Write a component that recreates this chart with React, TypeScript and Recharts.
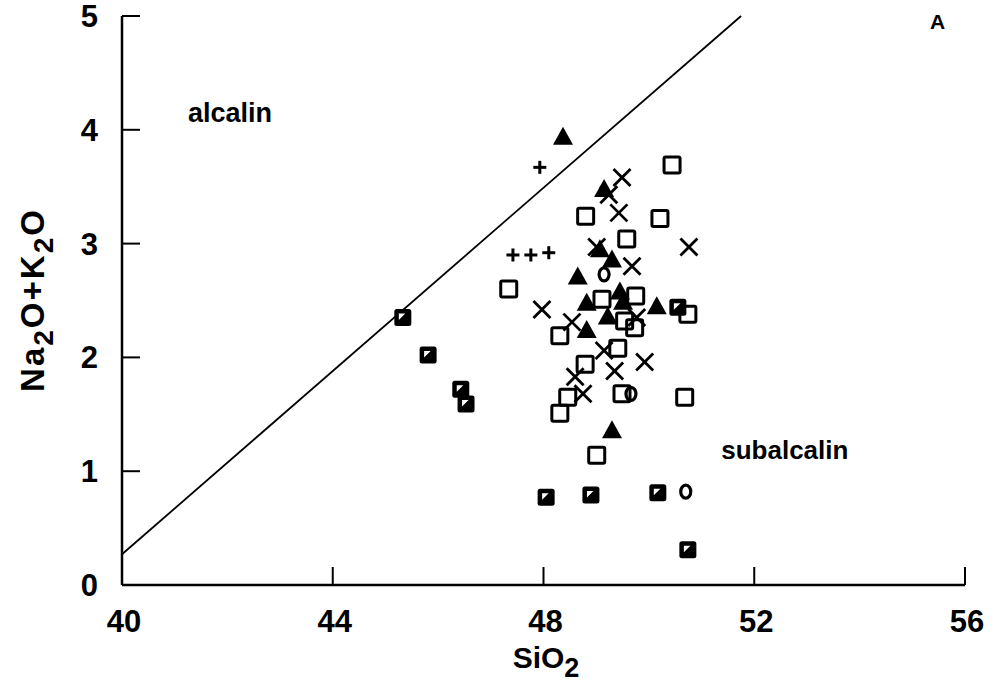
import React from "react";
import { ScatterChart, Scatter, XAxis, YAxis, ReferenceLine, ReferenceDot } from "recharts";

const xTicks = [40, 44, 48, 52, 56];
const yTicks = [0, 1, 2, 3, 4, 5];

const plusPts = [
  { x: 47.93, y: 3.67 }, { x: 47.42, y: 2.9 }, { x: 47.76, y: 2.9 }, { x: 48.1, y: 2.92 },
];
const trianglePts = [
  { x: 48.37, y: 3.94 }, { x: 49.15, y: 3.48 }, { x: 49.07, y: 2.95 }, { x: 49.3, y: 2.86 },
  { x: 48.65, y: 2.71 }, { x: 49.45, y: 2.58 }, { x: 49.51, y: 2.49 }, { x: 48.82, y: 2.48 },
  { x: 49.22, y: 2.36 }, { x: 50.15, y: 2.45 }, { x: 48.82, y: 2.24 }, { x: 49.3, y: 1.36 },
];
const crossPts = [
  { x: 49.49, y: 3.58 }, { x: 49.24, y: 3.43 }, { x: 49.43, y: 3.27 }, { x: 49.01, y: 2.97 },
  { x: 49.68, y: 2.8 }, { x: 50.76, y: 2.97 }, { x: 47.97, y: 2.42 }, { x: 48.54, y: 2.31 },
  { x: 49.77, y: 2.35 }, { x: 49.15, y: 2.06 }, { x: 49.35, y: 1.88 }, { x: 49.92, y: 1.96 },
  { x: 48.6, y: 1.83 }, { x: 48.75, y: 1.68 },
];
const openSquarePts = [
  { x: 50.44, y: 3.69 }, { x: 48.8, y: 3.24 }, { x: 50.21, y: 3.22 }, { x: 49.58, y: 3.04 },
  { x: 47.34, y: 2.6 }, { x: 49.11, y: 2.51 }, { x: 49.75, y: 2.54 }, { x: 49.54, y: 2.32 },
  { x: 49.73, y: 2.26 }, { x: 50.74, y: 2.38 }, { x: 48.31, y: 2.19 }, { x: 49.41, y: 2.08 },
  { x: 48.79, y: 1.94 }, { x: 48.46, y: 1.65 }, { x: 48.31, y: 1.51 }, { x: 49.49, y: 1.68 },
  { x: 50.68, y: 1.65 }, { x: 49.01, y: 1.14 },
];
const halfSquarePts = [
  { x: 45.33, y: 2.35 }, { x: 45.81, y: 2.02 }, { x: 46.43, y: 1.72 }, { x: 46.53, y: 1.59 },
  { x: 48.05, y: 0.77 }, { x: 48.9, y: 0.79 }, { x: 50.17, y: 0.81 }, { x: 50.74, y: 0.31 },
  { x: 50.55, y: 2.44 },
];
const circlePts = [
  { x: 49.15, y: 2.73 }, { x: 49.66, y: 1.68 }, { x: 50.7, y: 0.82 },
];
const boundaryLine = [
  { x: 40, y: 0.27 }, { x: 51.75, y: 5 },
];

const FONT = "'Liberation Sans', Arial, sans-serif";

const Plus = (p: any) => (
  <g stroke="#000" strokeWidth={3}>
    <line x1={p.cx - 6.5} y1={p.cy} x2={p.cx + 6.5} y2={p.cy} />
    <line x1={p.cx} y1={p.cy - 6.5} x2={p.cx} y2={p.cy + 6.5} />
  </g>
);
const Tri = (p: any) => (
  <polygon points={`${p.cx},${p.cy - 10} ${p.cx - 10},${p.cy + 8} ${p.cx + 10},${p.cy + 8}`} fill="#000" />
);
const Cross = (p: any) => (
  <g stroke="#000" strokeWidth={2.8}>
    <line x1={p.cx - 8.5} y1={p.cy - 8.5} x2={p.cx + 8.5} y2={p.cy + 8.5} />
    <line x1={p.cx - 8.5} y1={p.cy + 8.5} x2={p.cx + 8.5} y2={p.cy - 8.5} />
  </g>
);
const OpenSq = (p: any) => (
  <rect x={p.cx - 8} y={p.cy - 8} width={16} height={16} fill="none" stroke="#000" strokeWidth={3} rx={1.5} />
);
const HalfSq = (p: any) => (
  <g>
    <rect x={p.cx - 8.5} y={p.cy - 8.5} width={17} height={17} fill="#000" rx={2.5} />
    <polygon points={`${p.cx - 4},${p.cy - 4} ${p.cx + 2.5},${p.cy - 4} ${p.cx - 4},${p.cy + 2.5}`} fill="#fff" />
  </g>
);
const Circ = (p: any) => (
  <ellipse cx={p.cx} cy={p.cy} rx={5} ry={6.5} fill="none" stroke="#000" strokeWidth={3.2} />
);

const XTick = (p: any) => (
  <g>
    <line x1={p.x} y1={p.y} x2={p.x} y2={p.y - 18} stroke="#000" strokeWidth={2} />
    <text x={p.x + 2} y={p.y + 47} textAnchor="middle" fontFamily={FONT} fontWeight={700} fontSize={31} fill="#000">
      {p.payload.value}
    </text>
  </g>
);
const YTick = (p: any) => (
  <g>
    <line x1={p.x} y1={p.y} x2={p.x + 18} y2={p.y} stroke="#000" strokeWidth={2} />
    <text x={p.x - 24} y={p.y + 11} textAnchor="end" fontFamily={FONT} fontWeight={700} fontSize={31} fill="#000">
      {p.payload.value}
    </text>
  </g>
);

const YLabel = () => (
  <text transform="translate(44,300) rotate(-90)" textAnchor="middle" fontFamily={FONT} fontWeight={700} fontSize={33} letterSpacing={2} fill="#000">
    Na<tspan dy={9} fontSize={28}>2</tspan><tspan dy={-9}>O+K</tspan><tspan dy={9} fontSize={28}>2</tspan><tspan dy={-9}>O</tspan>
  </text>
);
const XLabel = () => (
  <text x={546} y={668} textAnchor="middle" fontFamily={FONT} fontWeight={700} fontSize={30} fill="#000">
    SiO<tspan dy={9} fontSize={27}>2</tspan>
  </text>
);

export default function App() {
  return (
    <div style={{ position: "absolute", left: 0, top: 0, width: 1004, height: 689, background: "#fff" }}>
      <ScatterChart width={1004} height={689} margin={{ top: 16, right: 39, bottom: 44, left: 62 }}>
        <XAxis
          type="number" dataKey="x" domain={[40, 56]} ticks={xTicks} allowDataOverflow
          height={60} tickSize={0} tickMargin={0} tick={<XTick />}
          axisLine={{ stroke: "#000", strokeWidth: 2.5 }} tickLine={false}
          label={<XLabel />}
        />
        <XAxis xAxisId="top" orientation="top" type="number" domain={[40, 56]} height={0} tick={false} tickLine={false} axisLine={{ stroke: "#000", strokeWidth: 2 }} />
        <YAxis
          type="number" dataKey="y" domain={[0, 5]} ticks={yTicks} allowDataOverflow
          width={60} tickSize={0} tickMargin={0} tick={<YTick />}
          axisLine={{ stroke: "#000", strokeWidth: 2.5 }} tickLine={false}
          label={<YLabel />}
        />
        <YAxis yAxisId="right" orientation="right" type="number" domain={[0, 5]} width={0} tick={false} tickLine={false} axisLine={{ stroke: "#000", strokeWidth: 2 }} />
        <ReferenceLine segment={boundaryLine} stroke="#000" strokeWidth={1.8} />
        <Scatter data={plusPts} shape={<Plus />} isAnimationActive={false} />
        <Scatter data={openSquarePts} shape={<OpenSq />} isAnimationActive={false} />
        <Scatter data={halfSquarePts} shape={<HalfSq />} isAnimationActive={false} />
        <Scatter data={crossPts} shape={<Cross />} isAnimationActive={false} />
        <Scatter data={trianglePts} shape={<Tri />} isAnimationActive={false} />
        <Scatter data={circlePts} shape={<Circ />} isAnimationActive={false} />
        <ReferenceDot x={42.05} y={4.15} r={0} label={{ value: "alcalin", position: "center", fontFamily: FONT, fontWeight: 700, fontSize: 27, fill: "#000" }} />
        <ReferenceDot x={52.58} y={1.19} r={0} label={{ value: "subalcalin", position: "center", fontFamily: FONT, fontWeight: 700, fontSize: 26, fill: "#000" }} />
        <ReferenceDot x={55.48} y={4.95} r={0} label={{ value: "A", position: "center", fontFamily: FONT, fontWeight: 700, fontSize: 21, fill: "#000" }} />
      </ScatterChart>
    </div>
  );
}
